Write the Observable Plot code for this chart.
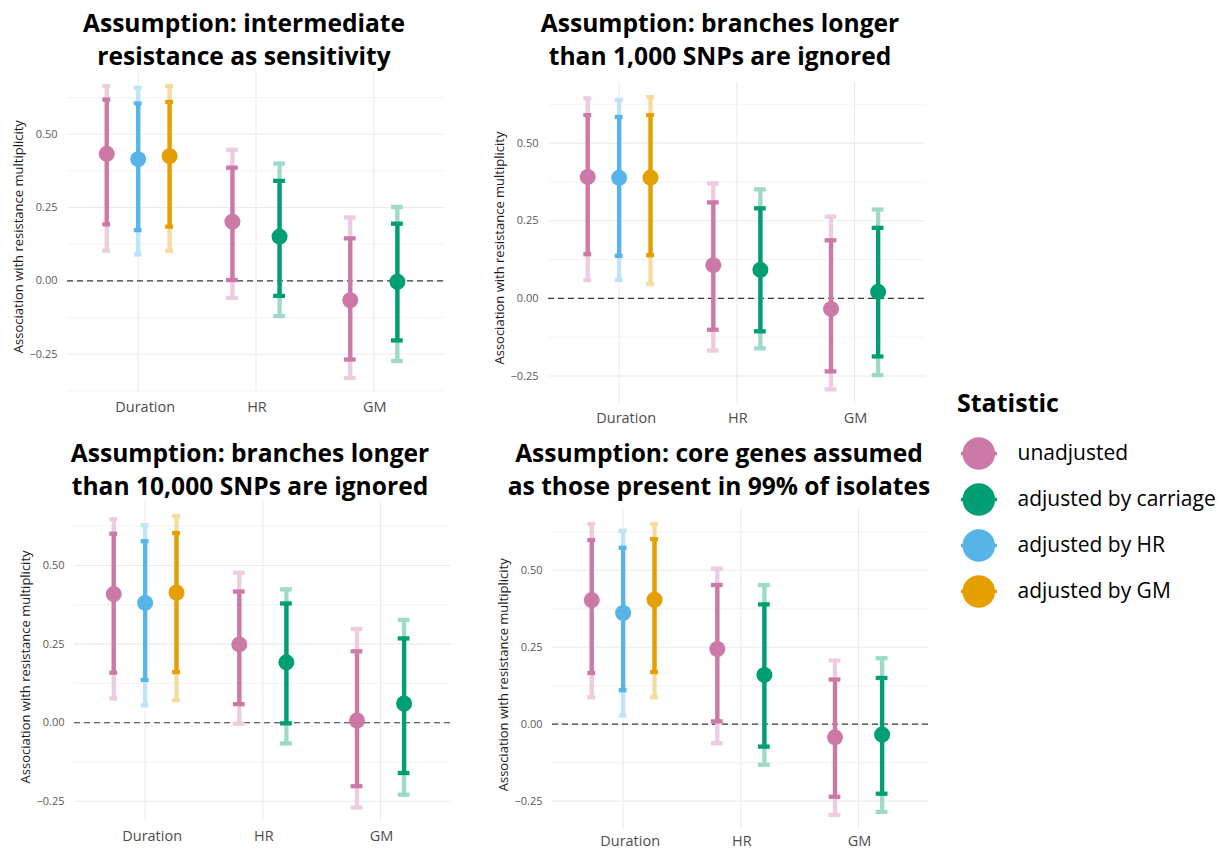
<!DOCTYPE html>
<html><head><meta charset="utf-8">
<script src="https://cdn.jsdelivr.net/npm/d3@7"></script>
<script src="https://cdn.jsdelivr.net/npm/@observablehq/plot@0.6"></script>
<style>
body{margin:0;background:#fff;}
#root{position:relative;width:1231px;height:851px;font-family:"Open Sans",sans-serif;overflow:hidden;}
.abs{position:absolute;}
</style></head><body><div id="root"></div>
<script>
// ---- data ----
const variables = ["Duration", "HR", "GM"];
const statistics = ["unadjusted", "adjusted by carriage", "adjusted by HR", "adjusted by GM"];
const statColors = ["#CC79A7", "#009E73", "#56B4E9", "#E69F00"];
const rowVariable = ["Duration", "Duration", "Duration", "HR", "HR", "GM", "GM"];
const rowStatistic = ["unadjusted", "adjusted by HR", "adjusted by GM", "unadjusted", "adjusted by carriage", "unadjusted", "adjusted by carriage"];
const yTicks = [-0.25, 0, 0.25, 0.5];
const yMinorTicks = [-0.375, -0.125, 0.125, 0.375, 0.625];

const titles = [
  ["Assumption: intermediate", "resistance as sensitivity"],
  ["Assumption: branches longer", "than 1,000 SNPs are ignored"],
  ["Assumption: branches longer", "than 10,000 SNPs are ignored"],
  ["Assumption: core genes assumed", "as those present in 99% of isolates"]
];
const yLabel = "Association with resistance multiplicity";
const legendTitle = "Statistic";

const est1 = [0.433, 0.415, 0.425, 0.202, 0.151, -0.066, -0.003];
const innerLo1 = [0.193, 0.173, 0.185, 0.003, -0.051, -0.268, -0.203];
const innerHi1 = [0.618, 0.605, 0.610, 0.386, 0.341, 0.145, 0.195];
const outerLo1 = [0.103, 0.090, 0.103, -0.058, -0.120, -0.331, -0.273];
const outerHi1 = [0.664, 0.658, 0.664, 0.447, 0.400, 0.216, 0.252];

const est2 = [0.391, 0.388, 0.389, 0.107, 0.092, -0.034, 0.021];
const innerLo2 = [0.142, 0.137, 0.139, -0.101, -0.106, -0.235, -0.187];
const innerHi2 = [0.590, 0.584, 0.590, 0.309, 0.290, 0.187, 0.227];
const outerLo2 = [0.059, 0.059, 0.046, -0.168, -0.161, -0.293, -0.247];
const outerHi2 = [0.644, 0.639, 0.648, 0.370, 0.351, 0.263, 0.286];

const est3 = [0.409, 0.381, 0.414, 0.249, 0.192, 0.007, 0.061];
const innerLo3 = [0.159, 0.136, 0.161, 0.059, -0.002, -0.202, -0.160];
const innerHi3 = [0.601, 0.577, 0.603, 0.417, 0.379, 0.227, 0.268];
const outerLo3 = [0.077, 0.055, 0.072, -0.003, -0.066, -0.270, -0.229];
const outerHi3 = [0.647, 0.628, 0.657, 0.477, 0.424, 0.298, 0.327];

const est4 = [0.403, 0.361, 0.404, 0.244, 0.160, -0.043, -0.034];
const innerLo4 = [0.166, 0.110, 0.169, 0.009, -0.073, -0.236, -0.226];
const innerHi4 = [0.598, 0.573, 0.601, 0.452, 0.389, 0.145, 0.150];
const outerLo4 = [0.087, 0.028, 0.087, -0.062, -0.132, -0.295, -0.285];
const outerHi4 = [0.650, 0.628, 0.650, 0.505, 0.452, 0.207, 0.214];

const panelData = [
  [est1, innerLo1, innerHi1, outerLo1, outerHi1],
  [est2, innerLo2, innerHi2, outerLo2, outerHi2],
  [est3, innerLo3, innerHi3, outerLo3, outerHi3],
  [est4, innerLo4, innerHi4, outerLo4, outerHi4]
];

// ---- layout (page px) ----
const layout = [
  {pl: 67, pr: 444, pt: 70.6, pb: 391.7, tx: 244, ty: 31.7, pad: 9},
  {pl: 548.3, pr: 925, pt: 81.8, pb: 403.3, tx: 720, ty: 31.7, pad: 9},
  {pl: 74, pr: 450.7, pt: 501.1, pb: 821.8, tx: 250, ty: 461.7, pad: 9},
  {pl: 552.3, pr: 929, pt: 509.3, pb: 829.3, tx: 719, ty: 461.7, pad: 6.5}
];

const root = document.getElementById("root");
const fmt = d => (d < 0 ? "\u2212" : "") + Math.abs(d).toFixed(2);
const lighten = c => d3.interpolateRgb("#ffffff", c)(0.38);
const colorOf = s => statColors[statistics.indexOf(s)];
const dodge = 0.8, capW = 0.2;

function buildRows(p) {
  const [est, iLo, iHi, oLo, oHi] = panelData[p];
  const rows = rowVariable.map((v, i) => ({
    variable: v, statistic: rowStatistic[i],
    est: est[i], iLo: iLo[i], iHi: iHi[i], oLo: oLo[i], oHi: oHi[i]
  }));
  for (const v of variables) {
    const g = rows.filter(r => r.variable === v)
      .sort((a, b) => statistics.indexOf(a.statistic) - statistics.indexOf(b.statistic));
    const n = g.length;
    g.forEach((r, j) => {
      r.x = variables.indexOf(v) + 1 + (j - (n - 1) / 2) * (dodge / n);
      r.x1 = r.x - capW / n / 2;
      r.x2 = r.x + capW / n / 2;
      r.color = colorOf(r.statistic);
      r.light = lighten(r.color);
    });
  }
  return rows;
}

const sw = 4.3;
layout.forEach((L, p) => {
  const rows = buildRows(p);
  const lo = d3.min(rows, r => r.oLo), hi = d3.max(rows, r => r.oHi);
  const ext = (hi - lo) * 0.05;
  const domain = [lo - ext, hi + ext];
  const mL = 67, mT = 10, mR = 10, mB = 21;
  const width = (L.pr - L.pl) + mL + mR;
  const height = (L.pb - L.pt) + mT + mB;
  const xLabelStyle = {tickSize: 0, tickPadding: L.pad, tickFormat: i => variables[i - 1], fontSize: 14.5, fill: "#4d4d4d", label: null};
  const chart = Plot.plot({
    width, height, marginLeft: mL, marginRight: mR, marginTop: mT, marginBottom: mB,
    style: {fontFamily: "'Open Sans', sans-serif", background: "transparent", overflow: "visible"},
    x: {domain: [0.4, 3.6]},
    y: {domain},
    marks: [
      Plot.gridY(yMinorTicks.filter(t => t > domain[0] && t < domain[1]), {stroke: "#ebebeb", strokeOpacity: 1, strokeWidth: 0.6}),
      Plot.gridY(yTicks, {stroke: "#ebebeb", strokeOpacity: 1, strokeWidth: 1.1}),
      Plot.gridX([1, 2, 3], {stroke: "#ebebeb", strokeOpacity: 1, strokeWidth: 1.1}),
      Plot.axisY(yTicks, {tickSize: 0, tickPadding: 10, tickFormat: fmt, fontSize: 11, fill: "#5a5a5a", label: null}),
      Plot.axisX([1], {...xLabelStyle, dx: 7}),
      Plot.axisX([2, 3], {...xLabelStyle, dx: 1}),
      Plot.ruleY([0], {stroke: "#3a3a3a", strokeWidth: 1.1, strokeDasharray: "6,4"}),
      Plot.ruleX(rows, {x: "x", y1: "oLo", y2: "oHi", stroke: d => d.light, strokeWidth: sw}),
      Plot.ruleY(rows, {y: "oLo", x1: "x1", x2: "x2", stroke: d => d.light, strokeWidth: sw}),
      Plot.ruleY(rows, {y: "oHi", x1: "x1", x2: "x2", stroke: d => d.light, strokeWidth: sw}),
      Plot.ruleX(rows, {x: "x", y1: "iLo", y2: "iHi", stroke: d => d.color, strokeWidth: sw}),
      Plot.ruleY(rows, {y: "iLo", x1: "x1", x2: "x2", stroke: d => d.color, strokeWidth: sw}),
      Plot.ruleY(rows, {y: "iHi", x1: "x1", x2: "x2", stroke: d => d.color, strokeWidth: sw}),
      Plot.dot(rows, {x: "x", y: "est", r: 8, fill: d => d.color, stroke: "none"})
    ]
  });
  chart.classList.add("abs");
  chart.style.left = (L.pl - mL) + "px";
  chart.style.top = (L.pt - mT) + "px";
  root.appendChild(chart);
});

// ---- text overlay: titles + y labels + legend title ----
const overlay = d3.create("svg").attr("class", "abs").attr("width", 1231).attr("height", 851)
  .style("left", "0px").style("top", "0px").style("pointer-events", "none")
  .style("font-family", "'Open Sans', sans-serif");
layout.forEach((L, p) => {
  titles[p].forEach((line, k) => {
    overlay.append("text").attr("x", L.tx).attr("y", L.ty + k * 33.3)
      .attr("text-anchor", "middle").attr("font-size", 24.6).attr("font-weight", 700)
      .attr("fill", "#000").text(line);
  });
  const cy = (L.pt + L.pb) / 2 + 5.5;
  overlay.append("text").attr("transform", `translate(${L.pl - 49.3},${cy}) rotate(-90)`)
    .attr("text-anchor", "middle").attr("dominant-baseline", "central")
    .attr("font-size", 13).attr("fill", "#1a1a1a").text(yLabel);
});
overlay.append("text").attr("x", 957).attr("y", 412).attr("font-size", 25).attr("font-weight", 700)
  .attr("fill", "#000").text(legendTitle);
root.appendChild(overlay.node());

// ---- legend ----
const legend = Plot.plot({
  width: 291, height: 240, margin: 0,
  style: {fontFamily: "'Open Sans', sans-serif", background: "transparent", overflow: "visible"},
  x: {domain: [0, 291], range: [0, 291], axis: null},
  y: {type: "point", domain: statistics, range: [72.7, 212], padding: 0, axis: null},
  marks: [
    Plot.ruleY(statistics, {y: d => d, x1: () => 21, x2: () => 57, stroke: d => colorOf(d), strokeWidth: 3.5}),
    Plot.dot(statistics, {x: () => 38.3, y: d => d, r: 16.3, fill: d => colorOf(d), stroke: "none"}),
    Plot.text(statistics, {x: () => 77, y: d => d, text: d => d, textAnchor: "start", fontSize: 21, fill: "#000"})
  ]
});
legend.classList.add("abs");
legend.style.left = "940px";
legend.style.top = "380px";
root.appendChild(legend);
</script></body></html>
